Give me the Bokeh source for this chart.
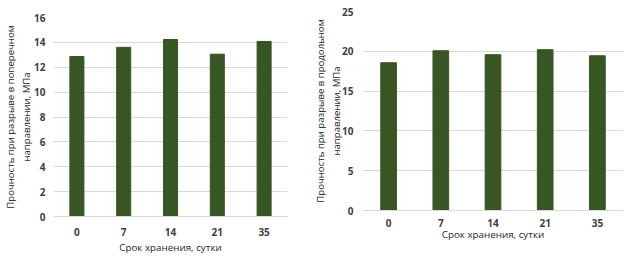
from bokeh.plotting import figure
from bokeh.layouts import row, column
from bokeh.models import FixedTicker, ColumnDataSource, Range1d
from bokeh.embed import file_html
from bokeh.resources import INLINE

days = ["0", "7", "14", "21", "35"]
transverse = [12.86, 13.6, 14.23, 13.05, 14.07]
longitudinal = [18.56, 20.07, 19.57, 20.2, 19.44]
left_ticks = [0, 2, 4, 6, 8, 10, 12, 14, 16]
right_ticks = [0, 5, 10, 15, 20, 25]
x_title = "Срок хранения, сутки"
left_y_title = "Прочность при разрыве в поперечном\nнаправлении, МПа"
right_y_title = "Прочность при разрыве в продольном\nнаправлении, МПа"

BAR = "#375623"
FONT = "Open Sans"


def make(vals, ticks, ytitle, w, h, bl, br, bt, bb, xls, xts, yls, yts):
    p = figure(x_range=days, y_range=Range1d(0, ticks[-1]), width=w, height=h,
               output_backend="svg", toolbar_location=None,
               min_border_left=bl, min_border_right=br,
               min_border_top=bt, min_border_bottom=bb)
    src = ColumnDataSource(dict(x=days, y=vals))
    p.vbar(x="x", top="y", width=0.3, source=src, color=BAR)
    p.outline_line_color = None
    p.background_fill_color = "white"
    p.border_fill_color = "white"
    p.xgrid.grid_line_color = None
    p.ygrid.grid_line_color = "#D9D9D9"
    p.ygrid.ticker = FixedTicker(ticks=ticks)
    p.yaxis.ticker = FixedTicker(ticks=ticks)
    p.yaxis.axis_line_color = None
    p.xaxis.axis_line_color = "#D9D9D9"
    for ax in (p.xaxis, p.yaxis):
        ax.major_tick_line_color = None
        ax.minor_tick_line_color = None
        ax.major_tick_out = 0
        ax.major_tick_in = 0
        ax.minor_tick_out = 0
        ax.minor_tick_in = 0
        ax.major_label_text_font = FONT
        ax.major_label_text_font_size = "10px"
        ax.major_label_text_font_style = "bold"
        ax.major_label_text_color = "#404040"
        ax.axis_label_text_font = FONT
        ax.axis_label_text_font_style = "normal"
        ax.axis_label_text_color = "#262626"
    p.xaxis.axis_label_text_font_size = "9.8px"
    p.yaxis.axis_label_text_font_size = "9.6px"
    p.yaxis.axis_label_text_line_height = 1.25
    p.xaxis.axis_label = x_title
    p.yaxis.axis_label = ytitle
    p.xaxis.major_label_standoff = xls
    p.yaxis.major_label_standoff = yls
    p.xaxis.axis_label_standoff = xts
    p.yaxis.axis_label_standoff = yts
    return p


p1 = make(transverse, left_ticks, left_y_title, 310, 258, 50, 23, 17, 42, 11, 2, 8, -2)
p2 = make(longitudinal, right_ticks, right_y_title, 320, 258, 49, 7, 11, 48, 8, -2, 9, -4)
layout = row(column(p1), column(p2), spacing=0)
open("out.html", "w").write(file_html(layout, INLINE))
